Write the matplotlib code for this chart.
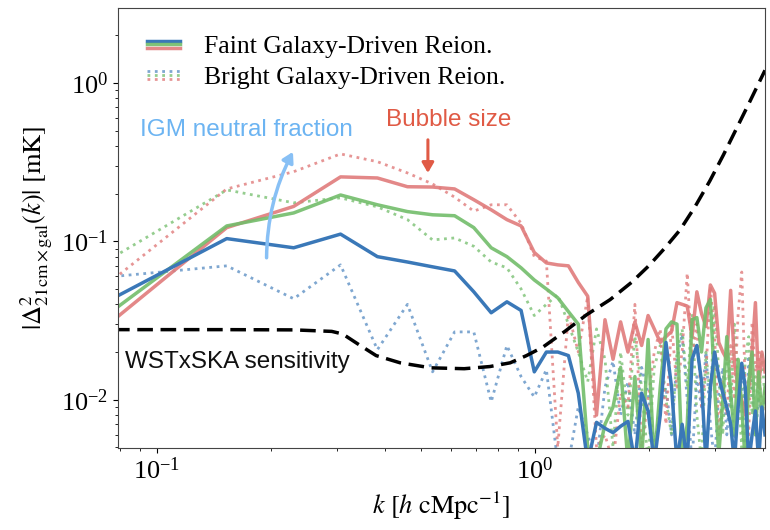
import matplotlib
matplotlib.use('Agg')
import matplotlib.pyplot as plt
from matplotlib.legend_handler import HandlerBase
from matplotlib.lines import Line2D

plt.rcParams['font.family'] = ['Liberation Serif', 'DejaVu Serif']
plt.rcParams['mathtext.fontset'] = 'stix'

# k bins [h/cMpc]
k = [0.077, 0.153, 0.230, 0.306, 0.383, 0.460, 0.536, 0.613, 0.689, 0.766,
     0.843, 0.919, 0.996, 1.072, 1.149, 1.226, 1.302, 1.379, 1.455, 1.532,
     1.609, 1.685, 1.762, 1.838, 1.915, 1.992, 2.068, 2.145, 2.221, 2.298,
     2.375, 2.451, 2.528, 2.604, 2.681, 2.758, 2.834, 2.911, 2.987, 3.064,
     3.141, 3.217, 3.294, 3.370, 3.447, 3.524, 3.600, 3.677, 3.753, 3.830,
     3.906, 3.983, 4.060]

faint_blue = [0.044, 0.104, 0.091, 0.111, 0.080, 0.074, 0.069, 0.065, 0.048, 0.0354,
              0.0415, 0.0366, 0.015, 0.020, 0.020, 0.019, 0.011, 0.004, 0.0072, 0.0066,
              0.0062, 0.0068, 0.0073, 0.004, 0.011, 0.0085, 0.004, 0.008, 0.023, 0.012,
              0.004, 0.007, 0.004, 0.018, 0.022, 0.013, 0.004, 0.012, 0.020, 0.014,
              0.011, 0.009, 0.007, 0.004, 0.009, 0.017, 0.012, 0.004, 0.006, 0.0085,
              0.004, 0.009, 0.006]
faint_green = [0.037, 0.125, 0.151, 0.196, 0.170, 0.154, 0.147, 0.145, 0.122, 0.091,
               0.080, 0.068, 0.057, 0.050, 0.044, 0.036, 0.030, 0.005, 0.004, 0.007,
               0.009, 0.016, 0.004, 0.014, 0.004, 0.024, 0.004, 0.012, 0.028, 0.031,
               0.030, 0.004, 0.007, 0.032, 0.033, 0.020, 0.038, 0.043, 0.012, 0.0045,
               0.010, 0.025, 0.011, 0.006, 0.018, 0.009, 0.004, 0.013, 0.020, 0.006,
               0.015, 0.008, 0.012]
faint_red = [0.032, 0.122, 0.166, 0.255, 0.251, 0.221, 0.220, 0.214, 0.183, 0.158,
             0.137, 0.125, 0.085, 0.073, 0.071, 0.070, 0.055, 0.045, 0.008, 0.032,
             0.018, 0.031, 0.020, 0.031, 0.022, 0.034, 0.028, 0.023, 0.025, 0.027,
             0.041, 0.040, 0.039, 0.025, 0.048, 0.035, 0.029, 0.053, 0.047, 0.023,
             0.020, 0.018, 0.049, 0.017, 0.012, 0.010, 0.008, 0.012, 0.020, 0.041,
             0.012, 0.020, 0.015]

bright_blue = [0.060, 0.070, 0.0434, 0.071, 0.0207, 0.040, 0.015, 0.0268, 0.0268, 0.0097,
               0.022, 0.014, 0.0104, 0.0155, 0.004, 0.004, 0.009, 0.006, 0.004, 0.012,
               0.0175, 0.008, 0.013, 0.006, 0.016, 0.011, 0.005, 0.009, 0.012, 0.006,
               0.018, 0.026, 0.010, 0.004, 0.014, 0.009, 0.020, 0.007, 0.004, 0.011,
               0.016, 0.006, 0.012, 0.005, 0.009, 0.014, 0.004, 0.019, 0.012, 0.006,
               0.010, 0.008, 0.010]
bright_green = [0.080, 0.211, 0.175, 0.188, 0.165, 0.137, 0.102, 0.105, 0.093, 0.074,
                0.068, 0.050, 0.034, 0.040, 0.046, 0.030, 0.020, 0.013, 0.028, 0.018,
                0.005, 0.020, 0.008, 0.025, 0.012, 0.004, 0.016, 0.022, 0.010, 0.006,
                0.020, 0.028, 0.012, 0.035, 0.008, 0.004, 0.020, 0.010, 0.040, 0.015,
                0.006, 0.022, 0.009, 0.030, 0.012, 0.005, 0.018, 0.025, 0.008, 0.014,
                0.010, 0.020, 0.010]
bright_red = [0.058, 0.214, 0.275, 0.356, 0.318, 0.270, 0.230, 0.190, 0.155, 0.170,
              0.170, 0.130, 0.080, 0.075, 0.005, 0.035, 0.020, 0.045, 0.005, 0.006,
              0.004, 0.011, 0.009, 0.040, 0.005, 0.010, 0.020, 0.028, 0.007, 0.030,
              0.012, 0.020, 0.063, 0.018, 0.030, 0.009, 0.015, 0.052, 0.025, 0.006,
              0.013, 0.008, 0.022, 0.010, 0.035, 0.064, 0.012, 0.006, 0.031, 0.015,
              0.020, 0.007, 0.012]

# WSTxSKA sensitivity
k_sens = [0.077, 0.15, 0.23, 0.29, 0.31, 0.34, 0.38, 0.44, 0.53, 0.65, 0.76, 0.86,
          0.95, 1.05, 1.2, 1.37, 1.58, 1.8, 2.0, 2.2, 2.42, 2.65, 2.9, 3.15, 3.42,
          3.7, 4.06]
sens = [0.0277, 0.0277, 0.0276, 0.027, 0.026, 0.0225, 0.019, 0.0171, 0.0159, 0.0157,
        0.0162, 0.0171, 0.019, 0.0215, 0.027, 0.0344, 0.0428, 0.055, 0.07, 0.09,
        0.118, 0.165, 0.24, 0.35, 0.52, 0.76, 1.2]

c_blue = '#3a78b8'
c_green = '#72bd6a'
c_red = '#e07b7b'


class StackHandler(HandlerBase):
    def create_artists(self, legend, orig_handle, xdescent, ydescent,
                       width, height, fontsize, trans):
        arts = []
        for i, ln in enumerate(orig_handle):
            y = height / 2 - ydescent + (1 - i) * height * 0.22
            l = Line2D([-xdescent, width - xdescent], [y, y], color=ln.get_color(),
                       ls=ln.get_linestyle(), lw=ln.get_linewidth(), alpha=ln.get_alpha())
            l.set_transform(trans)
            arts.append(l)
        return arts


fig = plt.figure(figsize=(7.7, 5.3), dpi=100)
ax = fig.add_axes([0.153, 0.155, 0.8405, 0.830])

bb, = ax.plot(k, bright_blue, ':', color=c_blue, lw=2, alpha=0.65)
bg, = ax.plot(k, bright_green, ':', color=c_green, lw=2, alpha=0.75)
br, = ax.plot(k, bright_red, ':', color=c_red, lw=2, alpha=0.8)
fr, = ax.plot(k, faint_red, '-', color=c_red, lw=2.5, alpha=0.9)
fg, = ax.plot(k, faint_green, '-', color=c_green, lw=2.5, alpha=0.9)
fb, = ax.plot(k, faint_blue, '-', color=c_blue, lw=2.5)
ax.plot(k_sens, sens, '--', color='black', lw=2.5, dashes=(4.5, 2.2))

ax.set_xscale('log')
ax.set_yscale('log')
ax.set_xlim(0.0788, 4.06)
ax.set_ylim(0.00497, 2.97)

ax.set_xlabel(r'$k\ [h\ \mathrm{cMpc}^{-1}]$', fontsize=19)
ax.set_ylabel(r'$|\Delta^2_{21\mathrm{cm}\times\mathrm{gal}}(k)|\ [\mathrm{mK}]$', fontsize=19)
ax.tick_params(labelsize=19)
for s in ax.spines.values():
    s.set_color('#444444')

ax.legend([(fb, fg, fr), (bb, bg, br)],
          ['Faint Galaxy-Driven Reion.', 'Bright Galaxy-Driven Reion.'],
          handler_map={tuple: StackHandler()}, loc='upper left', frameon=False,
          fontsize=18.5, handlelength=1.25, handletextpad=0.95, labelspacing=0.3,
          borderaxespad=0.5, bbox_to_anchor=(0.01, 0.99))

sans = ['Liberation Sans', 'DejaVu Sans']
ax.text(0.173, 0.505, 'IGM neutral fraction', color='#6cb4f2', fontsize=17.5,
        family=sans, ha='center', va='center')
ax.annotate('', xy=(0.229, 0.367), xytext=(0.195, 0.0787),
            arrowprops=dict(arrowstyle='-|>,head_length=0.6,head_width=0.35',
                            color='#88c0f5', lw=2.5,
                            connectionstyle='arc3,rad=-0.12', shrinkA=0, shrinkB=0))
ax.text(0.592, 0.585, 'Bubble size', color='#e05a45', fontsize=17.5,
        family=sans, ha='center', va='center')
ax.annotate('', xy=(0.521, 0.27), xytext=(0.521, 0.437),
            arrowprops=dict(arrowstyle='-|>,head_length=0.6,head_width=0.35',
                            color='#e05a45', lw=2.2, shrinkA=0, shrinkB=0))
ax.text(0.0823, 0.0174, 'WSTxSKA sensitivity', color='#111111', fontsize=17.5,
        family=sans, ha='left', va='center')

fig.savefig('out.png', dpi=100)
